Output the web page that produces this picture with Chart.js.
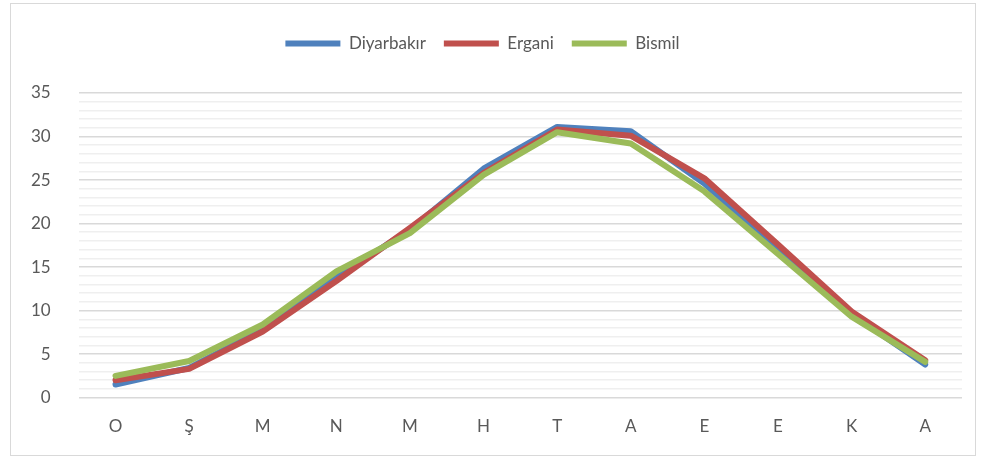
<!DOCTYPE html>
<html>
<head>
<meta charset="utf-8">
<script src="https://cdn.jsdelivr.net/npm/chart.js@4/dist/chart.umd.min.js"></script>
<style>
  html, body { margin: 0; padding: 0; background: #fff; }
  #frame { position: absolute; left: 10px; top: 3px; width: 964px; height: 451px; border: 1px solid #d9d9d9; }
  #wrap { position: absolute; left: 0; top: 0; width: 985px; height: 459px; }
</style>
</head>
<body>
<div id="frame"></div>
<div id="wrap"><canvas id="chart"></canvas></div>
<script>
let months = ["O", "Ş", "M", "N", "M", "H", "T", "A", "E", "E", "K", "A"];
let diyarbakir = [1.5, 3.4, 7.8, 13.8, 19.3, 26.3, 31.1, 30.6, 24.6, 17.0, 9.6, 3.8];
let ergani = [2.0, 3.3, 7.6, 13.4, 19.5, 25.8, 30.8, 30.1, 25.2, 17.6, 9.9, 4.3];
let bismil = [2.5, 4.2, 8.4, 14.5, 18.9, 25.6, 30.5, 29.2, 23.7, 16.5, 9.3, 4.1];
let yMax = 35;

Chart.defaults.font.family = "Lato, 'Open Sans', sans-serif";
Chart.defaults.color = "#595959";

function series(label, data, color, order)
{
    return {
        label: label,
        data: data,
        borderColor: color,
        backgroundColor: color,
        borderWidth: 6,
        borderCapStyle: "round",
        borderJoinStyle: "round",
        pointRadius: 0,
        pointHoverRadius: 0,
        tension: 0,
        fill: false,
        order: order
    };
}

// extra room under the legend
let legendGap = {
    id: "legendGap",
    beforeInit(chart) {
        let fit = chart.legend.fit;
        chart.legend.fit = function() {
            fit.bind(chart.legend)();
            this.height += 31;
        };
    }
};

let ctx = document.getElementById("chart");
let tempChart = new Chart(ctx,
{
    type: "line",
    data: {
        labels: months,
        datasets: [
            series("Diyarbakır", diyarbakir, "#4f81bd", 3),
            series("Ergani", ergani, "#c0504d", 2),
            series("Bismil", bismil, "#9bbb59", 1)
        ]
    },
    plugins: [legendGap],
    options: {
        responsive: true,
        maintainAspectRatio: false,
        animation: false,
        layout: { padding: { left: 3, right: 23, top: 17, bottom: 3 } },
        plugins: {
            tooltip: { enabled: false },
            legend: {
                position: "top",
                labels: {
                    usePointStyle: true,
                    pointStyle: "line",
                    pointStyleWidth: 55,
                    boxHeight: 17,
                    padding: 18,
                    font: { size: 17 },
                    color: "#595959",
                    sort: (a, b) => a.datasetIndex - b.datasetIndex
                }
            }
        },
        scales: {
            x: {
                offset: true,
                grid: { display: false, drawTicks: false },
                border: { display: false },
                ticks: { font: { size: 17 }, padding: 19, color: "#595959" }
            },
            y: {
                min: 0,
                max: yMax,
                border: { display: false },
                grid: {
                    drawTicks: false,
                    color: (c) => c.tick && c.tick.value % 5 === 0 ? "#d9d9d9" : "#efefef",
                    lineWidth: 1.5
                },
                ticks: {
                    stepSize: 1,
                    autoSkip: false,
                    padding: 28,
                    font: { size: 17 },
                    color: "#595959",
                    callback: (v) => v % 5 === 0 ? v : ""
                }
            }
        }
    }
});
</script>
</body>
</html>
